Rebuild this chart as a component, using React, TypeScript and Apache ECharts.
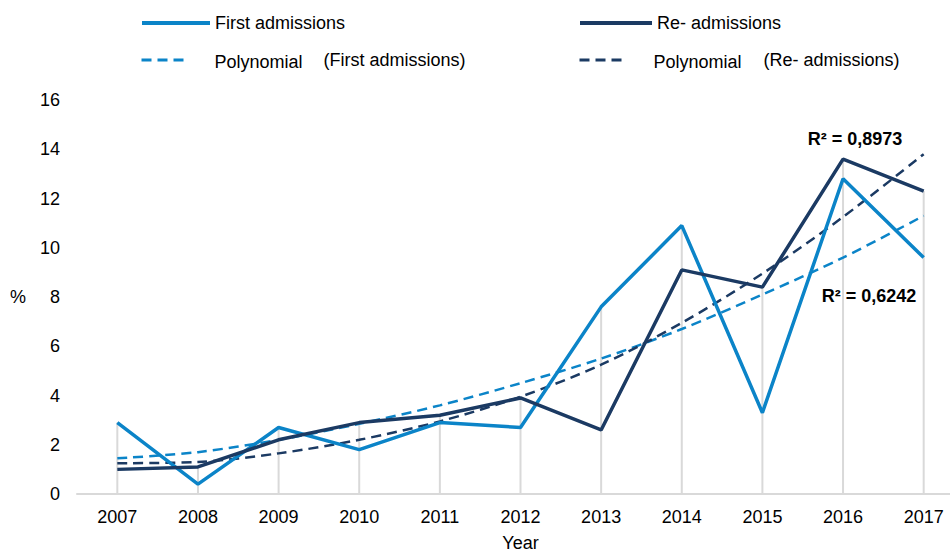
import React, { useEffect, useRef } from "react";
import * as echarts from "echarts";

const years = ["2007", "2008", "2009", "2010", "2011", "2012", "2013", "2014", "2015", "2016", "2017"];
const firstAdmissions = [2.9, 0.4, 2.7, 1.8, 2.9, 2.7, 7.6, 10.9, 3.3, 12.8, 9.6];
const reAdmissions = [1.0, 1.1, 2.2, 2.9, 3.2, 3.9, 2.6, 9.1, 8.4, 13.6, 12.3];
const firstTrend = [1.45, 1.7, 2.2, 2.85, 3.6, 4.5, 5.5, 6.7, 8.1, 9.6, 11.3];
const reTrend = [1.25, 1.3, 1.65, 2.2, 2.95, 3.95, 5.25, 6.95, 8.95, 11.25, 13.8];
const yTicks = [0, 2, 4, 6, 8, 10, 12, 14, 16];
const r2First = "R² = 0,6242";
const r2Re = "R² = 0,8973";

const BLUE = "#0B84C8";
const NAVY = "#1B3A63";
const GREY = "#D9D9D9";
const FONT = "Liberation Sans, Arial, sans-serif";
const FS = 18;

export default function App() {
  const ref = useRef<HTMLDivElement>(null);
  useEffect(() => {
    if (!ref.current) return;
    const chart = echarts.init(ref.current, null, { renderer: "svg" });
    const dropLines = years.map((_, i) => Math.max(firstAdmissions[i], reAdmissions[i]));
    const legendBase = {
      orient: "horizontal",
      itemHeight: 14,
      padding: 0,
      itemStyle: { opacity: 0 },
      textStyle: { fontFamily: FONT, fontSize: FS, color: "#000" },
    };
    chart.setOption({
      animation: false,
      textStyle: { fontFamily: FONT },
      legend: [
        {
          ...legendBase,
          data: ["First admissions"],
          left: 140,
          top: 14,
          itemWidth: 68,
          lineStyle: { width: 4 },
        },
        {
          ...legendBase,
          data: ["Re- admissions"],
          left: 578,
          top: 14,
          itemWidth: 72,
          lineStyle: { width: 4 },
        },
        {
          ...legendBase,
          data: ["Polynomial (First admissions)"],
          left: 140,
          top: 51,
          itemWidth: 45,
          lineStyle: { width: 3 },
          formatter: () => "{a|Polynomial}{b|(First admissions)}",
          textStyle: {
            fontFamily: FONT,
            fontSize: FS,
            color: "#000",
            rich: {
              a: { fontFamily: FONT, fontSize: FS, width: 109, padding: [3, 0, 0, 23] },
              b: { fontFamily: FONT, fontSize: FS },
            },
          },
        },
        {
          ...legendBase,
          data: ["Polynomial (Re- admissions)"],
          left: 578,
          top: 51,
          itemWidth: 47,
          lineStyle: { width: 3 },
          formatter: () => "{a|Polynomial}{b|(Re- admissions)}",
          textStyle: {
            fontFamily: FONT,
            fontSize: FS,
            color: "#000",
            rich: {
              a: { fontFamily: FONT, fontSize: FS, width: 110, padding: [3, 0, 0, 22] },
              b: { fontFamily: FONT, fontSize: FS },
            },
          },
        },
      ],
      grid: { left: 77, right: -14, top: 100, bottom: 59, containLabel: false, outerBoundsMode: "none" },
      xAxis: {
        type: "category",
        data: years,
        boundaryGap: true,
        name: "Year",
        nameLocation: "middle",
        nameGap: 40,
        nameTextStyle: { fontFamily: FONT, fontSize: FS, color: "#000" },
        axisLine: { show: true, lineStyle: { color: GREY, width: 2 } },
        axisTick: { show: false },
        axisLabel: { fontFamily: FONT, fontSize: FS, color: "#000", margin: 14 },
        splitLine: { show: false },
      },
      yAxis: {
        type: "value",
        min: yTicks[0],
        max: yTicks[yTicks.length - 1],
        interval: 2,
        name: "%",
        nameLocation: "middle",
        nameRotate: 0,
        nameGap: 51,
        nameTextStyle: { fontFamily: FONT, fontSize: FS, color: "#000" },
        axisLine: { show: false },
        axisTick: { show: false },
        axisLabel: { fontFamily: FONT, fontSize: FS, color: "#000", margin: 17 },
        splitLine: { show: false },
      },
      series: [
        {
          name: "drop",
          type: "bar",
          data: dropLines,
          barWidth: 2,
          itemStyle: { color: GREY },
          z: 1,
          silent: true,
        },
        {
          name: "Polynomial (First admissions)",
          type: "line",
          data: firstTrend,
          smooth: 0.3,
          symbol: "none",
          lineStyle: { color: BLUE, width: 2.5, type: [10, 6] },
          itemStyle: { color: BLUE },
          z: 3,
          markPoint: {
            symbol: "circle",
            symbolSize: 0,
            data: [
              {
                coord: ["2016", 8.05],
                label: {
                  show: true,
                  formatter: r2First,
                  offset: [26, 0],
                  fontFamily: FONT,
                  fontSize: 18,
                  fontWeight: "bold",
                  color: "#000",
                },
              },
            ],
          },
        },
        {
          name: "Polynomial (Re- admissions)",
          type: "line",
          data: reTrend,
          smooth: 0.3,
          symbol: "none",
          lineStyle: { color: NAVY, width: 2.5, type: [10, 6] },
          itemStyle: { color: NAVY },
          z: 3,
          markPoint: {
            symbol: "circle",
            symbolSize: 0,
            data: [
              {
                coord: ["2016", 14.4],
                label: {
                  show: true,
                  formatter: r2Re,
                  offset: [12, 0],
                  fontFamily: FONT,
                  fontSize: 18,
                  fontWeight: "bold",
                  color: "#000",
                },
              },
            ],
          },
        },
        {
          name: "First admissions",
          type: "line",
          data: firstAdmissions,
          symbol: "none",
          lineStyle: { color: BLUE, width: 3.5 },
          itemStyle: { color: BLUE },
          z: 4,
        },
        {
          name: "Re- admissions",
          type: "line",
          data: reAdmissions,
          symbol: "none",
          lineStyle: { color: NAVY, width: 3.5 },
          itemStyle: { color: NAVY },
          z: 5,
        },
      ],
    });
    return () => chart.dispose();
  }, []);
  return (
    <div
      ref={ref}
      style={{ position: "fixed", left: 0, top: 0, width: 950, height: 553, background: "#fff" }}
    />
  );
}
